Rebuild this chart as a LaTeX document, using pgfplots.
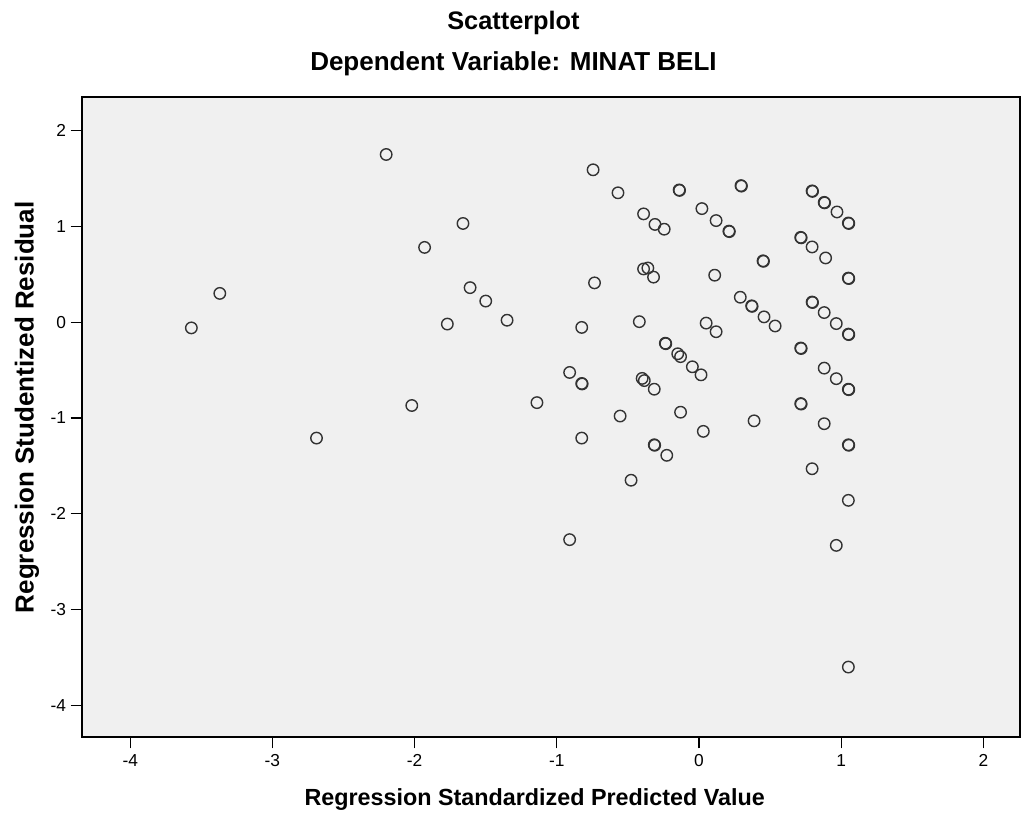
\documentclass[border=0pt]{standalone}
\usepackage{pgfplots}
\pgfplotsset{compat=1.18}
\usepackage{fontspec}
\setmainfont{Liberation Sans}
\definecolor{bgc}{HTML}{F0F0F0}
\definecolor{mk}{HTML}{333333}
\begin{document}
\begin{tikzpicture}[x=1pt,y=1pt]
\useasboundingbox (0,0) rectangle (767.25,613.5);
\begin{axis}[
  at={(61.5pt,60.75pt)}, anchor=south west,
  scale only axis, width=703.5pt, height=480pt,
  xmin=-4.339, xmax=2.257, ymin=-4.33, ymax=2.35,
  axis background/.style={fill=bgc},
  axis line style={black, line width=1.1pt},
  xtick={-4,-3,-2,-1,0,1,2}, ytick={-4,-3,-2,-1,0,1,2},
  xtick pos=bottom, ytick pos=left,
  tick align=outside, major tick length=8.5pt,
  tick style={black, line width=0.9pt},
  /pgf/number format/assume math mode=true,
  ticklabel style={font=\fontsize{13}{15}\selectfont},
  xticklabel style={yshift=-1pt},
  clip=false,
]
\addplot[only marks, mark=o, mark size=4.3pt, mark options={draw=mk, line width=1.05pt}] table {
x y
-3.57 -0.06
-3.37 0.30
-2.69 -1.21
-2.20 1.75
-2.02 -0.87
-1.93 0.78
-1.77 -0.02
-1.66 1.03
-1.61 0.36
-1.50 0.22
-1.35 0.02
-1.14 -0.84
-0.91 -0.525
-0.91 -2.27
-0.825 -0.055
-0.825 -0.64
-0.822 -0.645
-0.825 -1.21
-0.745 1.59
-0.735 0.41
-0.57 1.35
-0.555 -0.98
-0.478 -1.65
-0.42 0.005
-0.40 -0.587
-0.385 -0.61
-0.39 1.13
-0.39 0.555
-0.36 0.565
-0.32 0.47
-0.31 1.02
-0.315 -0.70
-0.315 -1.28
-0.312 -1.285
-0.245 0.97
-0.237 -0.22
-0.234 -0.225
-0.227 -1.39
-0.15 -0.33
-0.13 -0.36
-0.14 1.38
-0.137 1.375
-0.13 -0.94
-0.047 -0.466
0.014 -0.55
0.02 1.185
0.03 -1.14
0.05 -0.01
0.11 0.49
0.12 1.06
0.12 -0.10
0.21 0.95
0.213 0.945
0.29 0.26
0.295 1.425
0.298 1.42
0.37 0.17
0.373 0.165
0.387 -1.03
0.45 0.64
0.453 0.635
0.457 0.055
0.535 -0.04
0.715 0.885
0.718 0.88
0.715 -0.27
0.718 -0.275
0.715 -0.85
0.718 -0.855
0.795 1.37
0.798 1.365
0.795 0.785
0.795 0.21
0.798 0.205
0.795 -1.53
0.88 1.25
0.883 1.245
0.89 0.67
0.88 0.10
0.88 -0.48
0.88 -1.06
0.97 1.15
0.965 -0.015
0.965 -0.59
0.965 -2.33
1.05 1.035
1.053 1.03
1.05 0.46
1.053 0.455
1.05 -0.125
1.053 -0.13
1.05 -0.70
1.053 -0.705
1.05 -1.28
1.053 -1.285
1.05 -1.86
1.05 -3.60
};
\end{axis}
\node[font=\bfseries\fontsize{19}{22}\selectfont] at (385.1,596) {Scatterplot};
\node[font=\bfseries\fontsize{19.5}{22}\selectfont] at (385.1,566) {Dependent Variable: MINAT BELI};
\node[font=\bfseries\fontsize{17.5}{20}\selectfont] at (401,13.5) {Regression Standardized Predicted Value};
\node[font=\bfseries\fontsize{19.5}{22}\selectfont, rotate=90] at (20.25,308) {Regression Studentized Residual};
\end{tikzpicture}
\end{document}
